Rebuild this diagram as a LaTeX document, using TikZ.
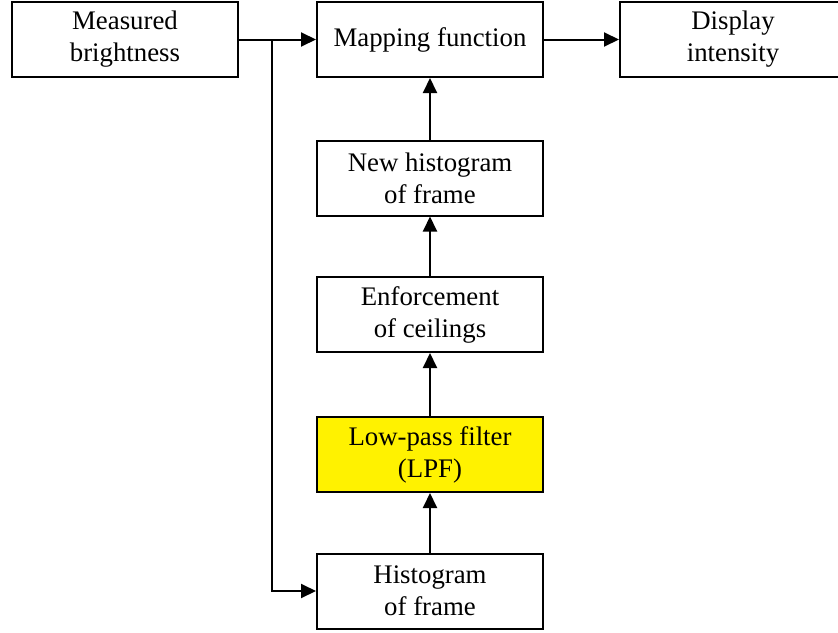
\documentclass[tikz,border=0pt]{standalone}
\usepackage{fontspec}
\setmainfont{Liberation Serif}
\usetikzlibrary{arrows.meta}
\begin{document}
\begin{tikzpicture}[x=1pt,y=-1pt,
  blk/.style={draw=black,line width=2pt,minimum width=226pt,minimum height=75pt,
    align=center,inner sep=0pt,font=\fontsize{26.8}{32}\selectfont},
  arr/.style={line width=2pt,-{Triangle[length=15pt,width=14pt]}}]
\useasboundingbox (0,0) rectangle (838,632);
\node[blk] (meas) at (125,39.5) {Measured\\brightness};
\node[blk] (map) at (430,39.5) {Mapping function};
\node[blk] (disp) at (733,39.5) {Display\\intensity};
\node[blk] (newh) at (430,178) {New histogram\\of frame};
\node[blk] (enf) at (430,314.5) {Enforcement\\of ceilings};
\node[blk,fill=yellow] (lpf) at (430,454.5) {Low-pass filter\\(LPF)};
\node[blk] (hist) at (430,591) {Histogram\\of frame};
\coordinate (j) at (272,39.5);
\coordinate (k) at (272,591);
\draw[arr] (meas.east) -- (map.west);
\draw[arr] (map.east) -- (disp.west);
\draw[arr] (j) -- (k) -- (hist.west);
\draw[arr] (hist.north) -- (lpf.south);
\draw[arr] (lpf.north) -- (enf.south);
\draw[arr] (enf.north) -- (newh.south);
\draw[arr] (newh.north) -- (map.south);
\end{tikzpicture}
\end{document}
